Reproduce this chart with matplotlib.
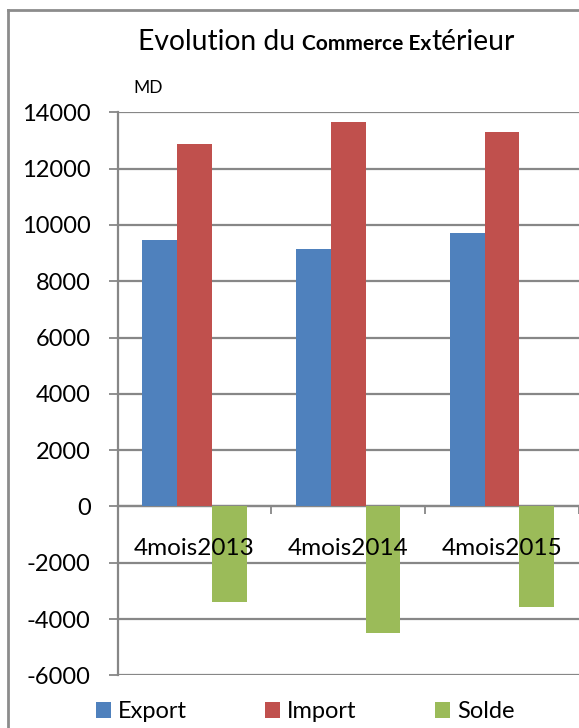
import matplotlib
matplotlib.use("Agg")
import matplotlib.pyplot as plt
import numpy as np
from matplotlib.offsetbox import TextArea, HPacker, AnchoredOffsetbox
from matplotlib.patches import Patch
from matplotlib.lines import Line2D

categories = ["4mois2013", "4mois2014", "4mois2015"]
export_vals = [9470, 9150, 9720]
import_vals = [12880, 13660, 13300]
solde_vals = [-3410, -4510, -3580]
series_names = ["Export", "Import", "Solde"]
colors = ["#4F81BD", "#C0504D", "#9BBB59"]
yticks = list(range(-6000, 14001, 2000))

plt.rcParams['font.family'] = ['Lato', 'DejaVu Sans']
W, H = 579, 728
fig = plt.figure(figsize=(W / 100, H / 100), dpi=100)
ax = fig.add_axes([117.7 / W, 1 - 675.4 / H, (579 - 117.7) / W, (675.4 - 112.3) / H])

x = np.arange(len(categories))
bw = 0.226
for i, (vals, c) in enumerate(zip([export_vals, import_vals, solde_vals], colors)):
    ax.bar(x + (i - 1) * bw, vals, width=bw, color=c, zorder=3, label=series_names[i])

grid_c = "#878787"
ax.set_ylim(-6000, 14000)
ax.set_xlim(-0.5, 2.5)
ax.set_yticks(yticks)
ax.set_yticklabels([str(v) for v in yticks], fontsize=17)
ax.yaxis.grid(True, color=grid_c, linewidth=1.6, zorder=0)
ax.tick_params(axis='y', direction='out', length=6.5, width=1.3, color=grid_c, pad=13)
ax.set_xticks([-0.5, 0.5, 1.5, 2.5])
ax.set_xticklabels([])
ax.tick_params(axis='x', direction='out', length=6, width=1.3, color=grid_c)
ax.spines['bottom'].set_position(('data', 0))
ax.spines['bottom'].set_color(grid_c)
ax.spines['bottom'].set_linewidth(1.6)
ax.spines['left'].set_color(grid_c)
ax.spines['left'].set_linewidth(1.6)
ax.spines['top'].set_visible(False)
ax.spines['right'].set_visible(False)
ax.set_axisbelow(True)

for xi, lab in zip(x, categories):
    ax.text(xi, -1510, lab, ha='center', va='center', fontsize=17.5, zorder=5)

# MD unit label
fig.text(133 / W, 1 - 88 / H, "MD", fontsize=12.5, ha='left', va='center')

# Title with mixed fonts
parts = [
    TextArea("Evolution du ", textprops=dict(fontsize=20.3, color='black')),
    TextArea("Commerce Ex", textprops=dict(fontsize=15, fontweight='bold', color='black')),
    TextArea("térieur", textprops=dict(fontsize=20.3, color='black')),
]
box = HPacker(children=parts, align='baseline', pad=0, sep=0)
anch = AnchoredOffsetbox(loc='center', child=box, pad=0, borderpad=0, frameon=False,
                         bbox_to_anchor=(326 / W, 1 - 42 / H), bbox_transform=fig.transFigure)
fig.add_artist(anch)

# Legend
handles = [Patch(facecolor=c, edgecolor='none') for c in colors]
fig.legend(handles, series_names, loc='center left', bbox_to_anchor=(96 / W, 1 - 712 / H),
           ncol=3, frameon=False, fontsize=17, handlelength=0.64, handleheight=0.64,
           handletextpad=0.3, columnspacing=3.3, borderpad=0, borderaxespad=0)

# Outer chart border (left and top visible)
fig.add_artist(Line2D([8 / W, 8 / W], [0, 1 - 10 / H], transform=fig.transFigure,
                      color="#8c8c8c", linewidth=2))
fig.add_artist(Line2D([8 / W, 1], [1 - 10 / H, 1 - 10 / H], transform=fig.transFigure,
                      color="#8c8c8c", linewidth=2))

fig.savefig("out.png", dpi=100)
